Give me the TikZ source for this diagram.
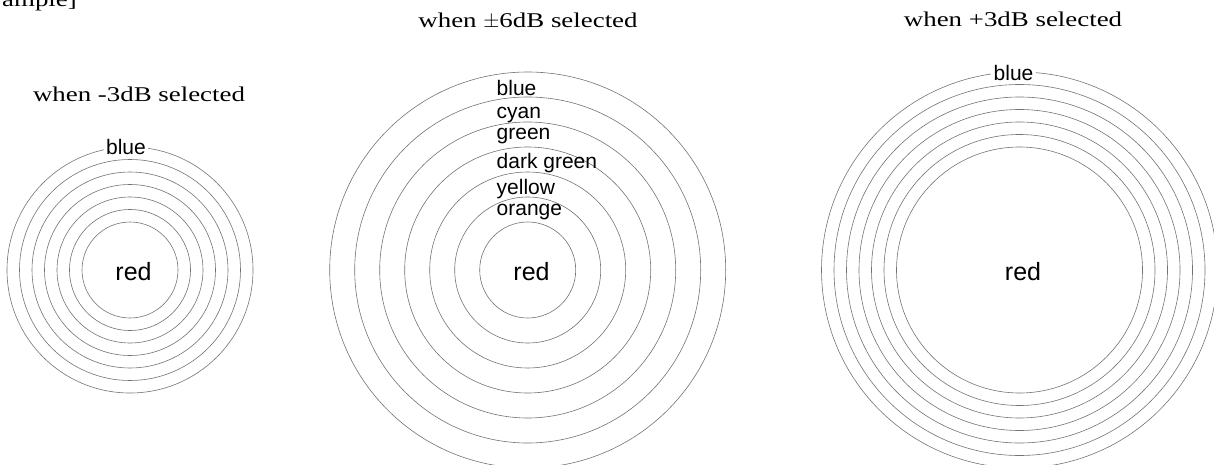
\documentclass[tikz,border=0pt]{standalone}
\usepackage{fontspec}
\setmainfont{Liberation Serif}
\setsansfont{Liberation Sans}
\usetikzlibrary{positioning}

\begin{document}
\begin{tikzpicture}[
    x=1pt, y=-1pt,
    ring/.style={draw=black!55, line width=0.6pt},
    caption/.style={font=\fontsize{21}{24}\selectfont\addfontfeature{FakeStretch=1.28},
                inner sep=0pt, anchor=base},
    colour/.style={font=\sffamily\fontsize{21}{24}\selectfont, inner sep=0pt, anchor=base west},
    toplabel/.style={font=\sffamily\fontsize{21}{24}\selectfont, fill=white, inner sep=2.5pt},
    centre/.style={font=\sffamily\fontsize{25}{30}\selectfont, inner sep=0pt}
]
\useasboundingbox (0,0) rectangle (1214,465);

\coordinate (lc) at (130,270);
\coordinate (mc) at (527.7,270);
\coordinate (rc) at (1019.5,270);

% rings
\draw[ring] (lc) circle (48) circle (60.5) circle (73) circle (85.5) circle (98) circle (110.5) circle (123);
\draw[ring] (mc) circle (48) circle (73) circle (98) circle (123) circle (148) circle (173) circle (198);
\draw[ring] (rc) circle (123) circle (135.5) circle (148) circle (160.5) circle (173) circle (185.5) circle (198);

% captions
\node[caption, anchor=base east] (cut) at (77,6.5) {ample]};
\node[caption] (lcap) at (139,102) {when -3dB selected};
\node[caption] (mcap) at (528,27.5) {when $\pm$6dB selected};
\node[caption] (rcap) at (1013,27) {when +3dB selected};

% left
\node[toplabel] (lblue) at (126,147) {blue};
\node[centre] (lred) at (133.5,271.5) {red};

% middle
\node[colour] (mblue) at (496.5,96) {blue};
\node[colour] (mcyan) at (496.5,118.5) {cyan};
\node[colour] (mgreen) at (496.5,139.5) {green};
\node[colour] (mdark) at (496.5,168.5) {dark green};
\node[colour] (myellow) at (496.5,194.5) {yellow};
\node[colour] (morange) at (496.5,215) {orange};
\node[centre] (mred) at (531.5,271.5) {red};

% right
\node[toplabel] (rblue) at (1013.5,72.5) {blue};
\node[centre] (rred) at (1023,272) {red};

\end{tikzpicture}
\end{document}
